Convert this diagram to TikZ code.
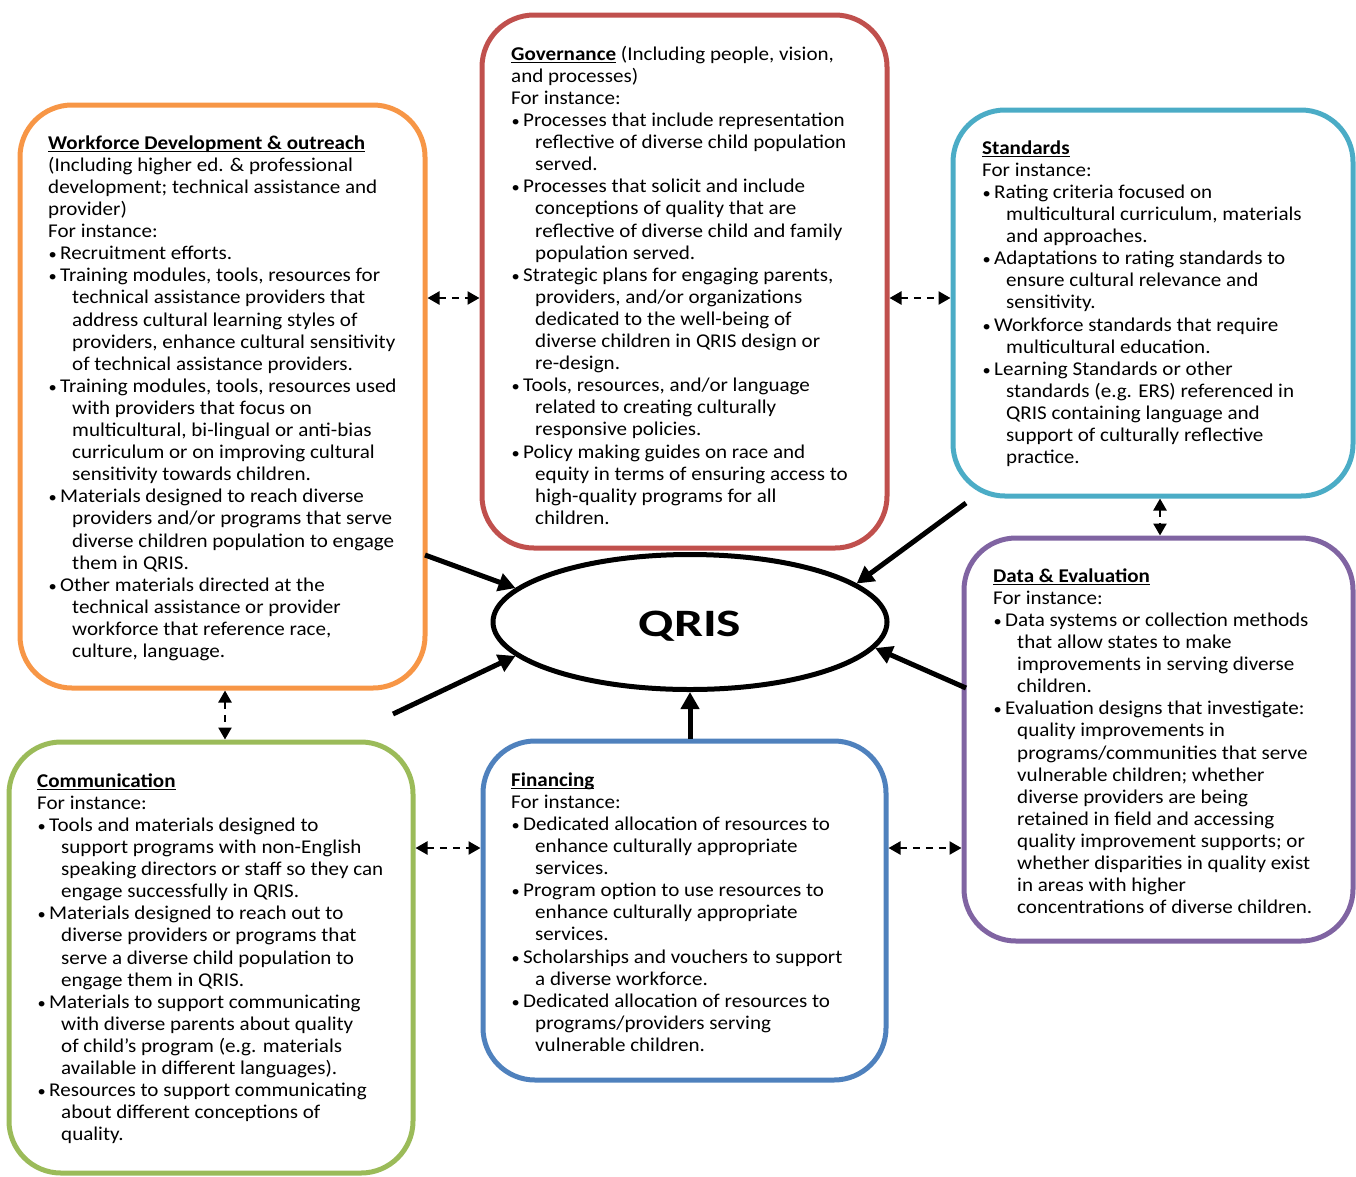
\documentclass[tikz,border=0pt]{standalone}
\usepackage{fontspec}
\setmainfont{Carlito}[FakeStretch=1.08]
\usetikzlibrary{arrows.meta,shapes.geometric}
\definecolor{cOrange}{HTML}{F79646}
\definecolor{cRed}{HTML}{C0504D}
\definecolor{cCyan}{HTML}{4BACC6}
\definecolor{cPurple}{HTML}{8064A2}
\definecolor{cBlue}{HTML}{4F81BD}
\definecolor{cGreen}{HTML}{9BBB59}
\newsavebox\ttlbox
\newcommand\ttl[1]{\sbox\ttlbox{\bfseries #1}\rlap{\rule[-2.6pt]{\wd\ttlbox}{1.1pt}}\usebox\ttlbox}
\newcommand\bu{\makebox[12pt][l]{\hspace{0.5pt}\scalebox{0.78}{\textbullet}}}
\newcommand\ind{\hspace*{24pt}}
\newcommand\fst{\rule{0pt}{16pt}}
\begin{document}
\begin{tikzpicture}[x=1pt,y=-1pt,
  box/.style={draw, line width=5pt, rounded corners=52pt, rectangle, inner sep=0pt},
  txt/.style={anchor=north west, inner sep=0pt, align=left, font=\fontsize{19.5}{22.1}\selectfont},
  dashlink/.style={line width=2.4pt, dash pattern=on 7pt off 6pt, {Triangle[length=12pt,width=13pt]}-{Triangle[length=12pt,width=13pt]}},
  mainlink/.style={line width=5pt, -{Triangle[length=17pt,width=18pt]}}]
\useasboundingbox (0,0) rectangle (1356,1176);

% boxes
\node[box, draw=cOrange, minimum width=405pt, minimum height=583pt] (wf) at (222.5,396.5) {};
\node[box, draw=cRed, minimum width=405pt, minimum height=533pt] (gov) at (684.5,281.5) {};
\node[box, draw=cCyan, minimum width=400pt, minimum height=386pt] (std) at (1153,303) {};
\node[box, draw=cPurple, minimum width=389pt, minimum height=403pt] (dat) at (1158.5,739.5) {};
\node[box, draw=cBlue, minimum width=403pt, minimum height=339pt] (fin) at (684.5,910.5) {};
\node[box, draw=cGreen, minimum width=404pt, minimum height=431pt] (com) at (211,957.5) {};

% centre
\node[ellipse, draw, line width=5pt, minimum width=394pt, minimum height=135pt, inner sep=0pt,
      text depth=0pt, font=\fontsize{38.8}{44}\selectfont\bfseries] (q) at (690,622) {\raisebox{-3.5pt}{\scalebox{1.23}[1]{QRIS}}};

% texts
\node[txt] (wft) at (48,133) {\fst\ttl{Workforce Development \& outreach}\\
(Including higher ed. \& professional\\
development; technical assistance and\\
provider)\\
For instance:\\
\bu Recruitment efforts.\\
\bu Training modules, tools, resources for\\
\ind technical assistance providers that\\
\ind address cultural learning styles of\\
\ind providers, enhance cultural sensitivity\\
\ind of technical assistance providers.\\
\bu Training modules, tools, resources used\\
\ind with providers that focus on\\
\ind multicultural, bi-lingual or anti-bias\\
\ind curriculum or on improving cultural\\
\ind sensitivity towards children.\\
\bu Materials designed to reach diverse\\
\ind providers and/or programs that serve\\
\ind diverse children population to engage\\
\ind them in QRIS.\\
\bu Other materials directed at the\\
\ind technical assistance or provider\\
\ind workforce that reference race,\\
\ind culture, language.};

\node[txt] (govt) at (511,44) {\fst\ttl{Governance} (Including people, vision,\\
and processes)\\
For instance:\\
\bu Processes that include representation\\
\ind reflective of diverse child population\\
\ind served.\\
\bu Processes that solicit and include\\
\ind conceptions of quality that are\\
\ind reflective of diverse child and family\\
\ind population served.\\
\bu Strategic plans for engaging parents,\\
\ind providers, and/or organizations\\
\ind dedicated to the well-being of\\
\ind diverse children in QRIS design or\\
\ind re-design.\\
\bu Tools, resources, and/or language\\
\ind related to creating culturally\\
\ind responsive policies.\\
\bu Policy making guides on race and\\
\ind equity in terms of ensuring access to\\
\ind high-quality programs for all\\
\ind children.};

\node[txt] (stdt) at (982,138) {\fst\ttl{Standards}\\
For instance:\\
\bu Rating criteria focused on\\
\ind multicultural curriculum, materials\\
\ind and approaches.\\
\bu Adaptations to rating standards to\\
\ind ensure cultural relevance and\\
\ind sensitivity.\\
\bu Workforce standards that require\\
\ind multicultural education.\\
\bu Learning Standards or other\\
\ind standards (e.g. ERS) referenced in\\
\ind QRIS containing language and\\
\ind support of culturally reflective\\
\ind practice.};

\node[txt] (datt) at (993,566) {\fst\ttl{Data \& Evaluation}\\
For instance:\\
\bu Data systems or collection methods\\
\ind that allow states to make\\
\ind improvements in serving diverse\\
\ind children.\\
\bu Evaluation designs that investigate:\\
\ind quality improvements in\\
\ind programs/communities that serve\\
\ind vulnerable children; whether\\
\ind diverse providers are being\\
\ind retained in field and accessing\\
\ind quality improvement supports; or\\
\ind whether disparities in quality exist\\
\ind in areas with higher\\
\ind concentrations of diverse children.};

\node[txt] (fint) at (511,770) {\fst\ttl{Financing}\\
For instance:\\
\bu Dedicated allocation of resources to\\
\ind enhance culturally appropriate\\
\ind services.\\
\bu Program option to use resources to\\
\ind enhance culturally appropriate\\
\ind services.\\
\bu Scholarships and vouchers to support\\
\ind a diverse workforce.\\
\bu Dedicated allocation of resources to\\
\ind programs/providers serving\\
\ind vulnerable children.};

\node[txt] (comt) at (37,771) {\fst\ttl{Communication}\\
For instance:\\
\bu Tools and materials designed to\\
\ind support programs with non-English\\
\ind speaking directors or staff so they can\\
\ind engage successfully in QRIS.\\
\bu Materials designed to reach out to\\
\ind diverse providers or programs that\\
\ind serve a diverse child population to\\
\ind engage them in QRIS.\\
\bu Materials to support communicating\\
\ind with diverse parents about quality\\
\ind of child’s program (e.g. materials\\
\ind available in different languages).\\
\bu Resources to support communicating\\
\ind about different conceptions of\\
\ind quality.};

% helper coordinates
\coordinate (yTop) at (0,298);
\coordinate (yBot) at (0,848);
\coordinate (xL) at (225,0);
\coordinate (xR) at (1160,0);
\coordinate (wfOut) at (425,555);
\coordinate (lowL) at (393,714);
\coordinate (upR) at (966,503);
\coordinate (datOut) at (966,688);

% dashed two-way links
\draw[dashlink] (wf.east |- yTop) -- (gov.west |- yTop);
\draw[dashlink] (gov.east |- yTop) -- (std.west |- yTop);
\draw[dashlink] (xL |- wf.south) -- (xL |- com.north);
\draw[dashlink] (xR |- std.south) -- (xR |- dat.north);
\draw[dashlink] (com.east |- yBot) -- (fin.west |- yBot);
\draw[dashlink] (fin.east |- yBot) -- (dat.west |- yBot);

% arrows into QRIS
\draw[mainlink] (wfOut) -- (q.169);
\draw[mainlink] (lowL) -- (q.191);
\draw[mainlink] (upR) -- (q.13);
\draw[mainlink] (datOut) -- (q.352);
\draw[mainlink] (fin.north -| q.south) -- (q.south);
\end{tikzpicture}
\end{document}
